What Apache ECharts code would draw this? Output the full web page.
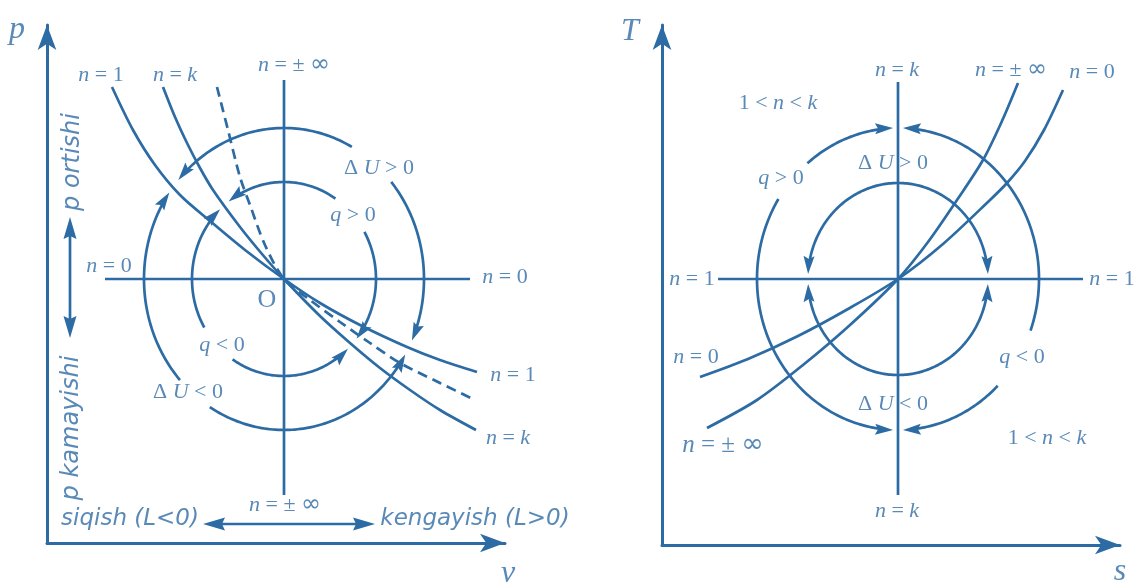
<!DOCTYPE html>
<html><head><meta charset="utf-8">
<script src="https://cdn.jsdelivr.net/npm/echarts@6/dist/echarts.min.js"></script>
<style>html,body{margin:0;padding:0;background:#fff}#c{width:1137px;height:585px}</style>
</head><body><div id="c"></div>
<script>
// ---- p–v diagram: coordinates measured from the common state point O ----
const pvIsotherm = [[-172,192],[-151,149],[-129,114],[-104,84],[-74,58],[-39,29],[0,0],[36,-24],[76,-46],[123,-68],[156,-81],[193,-93]];            // n = 1
const pvAdiabat  = [[-121,192],[-109,162],[-97,136],[-84,111],[-71,89],[-44,52],[-22,25],[0,0],[36,-37],[66,-64],[96,-89],[126,-111],[156,-131],[192,-151]]; // n = k
const pvDashed   = [[-67,192],[-56,149],[-44,102],[-34,74],[-19,34],[0,0],[26,-21],[56,-43],[86,-64],[116,-84],[156,-104],[191,-121]];
const pvIsobar   = [[-179,0],[186,0]];   // n = 0
const pvIsochore = [[0,199],[0,-216]];   // n = ±∞
// arcs: [cx, cy, rx, ry, fromDeg, toDeg] – arrowhead at the "to" end
const pvArcs = [
  [0,0,140,151,61,139],
  [0,0,140,151,222,145],
  [0,0,140,151,238,330],
  [0,0,140,151,40,-24],
  [0,0,92,97,56,127],
  [0,0,92,97,210,134],
  [0,0,92,97,236,314],
  [0,0,92,97,29,-38]
];
// double-headed arrows: [x1, y1, x2, y2]
const pvArrows = [[-214,62,-214,-59],[-81,-245,91,-245]];
const pvMathLabels = [
  [-183,204,'n = 1'],[-109,204,'n = k'],[10,214,'n = ± ∞'],
  [95,111,'Δ U > 0'],[69,64,'q > 0'],[-175,13,'n = 0'],[221,2,'n = 0'],
  [-62,-66,'q < 0'],[229,-96,'n = 1'],[-96,-113,'Δ U < 0'],[224,-159,'n = k'],
  [1,-226,'n = ± ∞']
];
const pvPoint = [[-17,-21,'O']];
const pvAxisNames = [[-267,249,'p'],[224,-295,'v']];
const pvWords = [[-154,-240,'siqish (L<0)'],[191,-240,'kengayish (L>0)']];
const pvWordsUp = [[-211,117,'p ortishi'],[-212,-149,'p kamayishi']];

// ---- T–s diagram: coordinates measured from the common state point ----
const tsIsochore = [[-191,-149],[-141,-121],[-95,-86],[-48,-46],[0,0],[30,37],[59,79],[85,119],[104,158],[120,196]]; // n = ±∞
const tsIsobar   = [[-198,-98],[-150,-80],[-100,-57],[-50,-30],[0,0],[45,35],[92,79],[109,96],[127,118],[146,149],[165,189]];   // n = 0
const tsIsotherm = [[-180,0],[185,0]];   // n = 1
const tsAdiabat  = [[0,197],[0,-216]];   // n = k
const tsArcs = [
  [0,0,141,151,130,92],
  [0,0,141,151,-20,88],
  [0,0,141,151,148,268],
  [0,0,141,151,-45,-88],
  [0,0,90,96,90,177],
  [0,0,90,96,90,3],
  [0,0,90,96,270,183],
  [0,0,90,96,270,357]
];
const tsMathLabels = [
  [-120,176,'1 < n < k'],[-1,209,'n = k'],[113,209,'n = ± ∞'],[194,207,'n = 0'],
  [-117,101,'q > 0'],[-5,116,'Δ U > 0'],[-206,0,'n = 1'],[214,0,'n = 1'],
  [-202,-78,'n = 0'],[124,-78,'q < 0'],[-5,-125,'Δ U < 0'],[149,-159,'1 < n < k'],
  [-1,-232,'n = k']
];
const tsBigLabels = [[-175,-166,'n = ± ∞']];
const tsAxisNames = [[-268,247,'T'],[222,-293,'s']];

const LINE = '#2c6ba3';
const TEXT = '#2f6ca5';
const SERIF = "'Liberation Serif','DejaVu Serif',serif";
const SANS = "'DejaVu Sans','Liberation Sans',sans-serif";

function arrowHead(tip, dir, L, W) {
  const bx = tip[0] - dir[0] * L, by = tip[1] - dir[1] * L;
  const nx = -dir[1], ny = dir[0];
  return [[tip[0], tip[1]], [bx + nx * W, by + ny * W], [bx + dir[0] * 3, by + dir[1] * 3], [bx - nx * W, by - ny * W]];
}

function arcRender(params, api) {
  const c = api.coord([api.value(0), api.value(1)]);
  const rx = api.size([api.value(2), 0])[0];
  const ry = api.size([0, api.value(3)])[1];
  const a0 = api.value(4) * Math.PI / 180, a1 = api.value(5) * Math.PI / 180;
  const s = Math.sign(a1 - a0);
  const L = 18, W = 5.5;
  const aStop = a1 - s * (L * 0.6) / ((rx + ry) / 2);
  const n = Math.max(8, Math.ceil(Math.abs(aStop - a0) / 0.02));
  const pts = [];
  for (let i = 0; i <= n; i++) {
    const a = a0 + (aStop - a0) * i / n;
    pts.push([c[0] + rx * Math.cos(a), c[1] - ry * Math.sin(a)]);
  }
  const tip = [c[0] + rx * Math.cos(a1), c[1] - ry * Math.sin(a1)];
  let dx = -rx * Math.sin(a1) * s, dy = -ry * Math.cos(a1) * s;
  const len = Math.hypot(dx, dy); dx /= len; dy /= len;
  return { type: 'group', children: [
    { type: 'polyline', shape: { points: pts }, style: { stroke: LINE, lineWidth: 2.7, fill: null } },
    { type: 'polygon', shape: { points: arrowHead(tip, [dx, dy], L, W) }, style: { fill: LINE } }
  ]};
}

function segRender(params, api) {
  const p1 = api.coord([api.value(0), api.value(1)]);
  const p2 = api.coord([api.value(2), api.value(3)]);
  let dx = p2[0] - p1[0], dy = p2[1] - p1[1];
  const len = Math.hypot(dx, dy); dx /= len; dy /= len;
  const L = 22, W = 6.5;
  return { type: 'group', children: [
    { type: 'line', shape: { x1: p1[0] + dx * 10, y1: p1[1] + dy * 10, x2: p2[0] - dx * 10, y2: p2[1] - dy * 10 }, style: { stroke: LINE, lineWidth: 2.7 } },
    { type: 'polygon', shape: { points: arrowHead(p2, [dx, dy], L, W) }, style: { fill: LINE } },
    { type: 'polygon', shape: { points: arrowHead(p1, [-dx, -dy], L, W) }, style: { fill: LINE } }
  ]};
}

function curve(data, gi, dashed) {
  return { type: 'line', xAxisIndex: gi, yAxisIndex: gi, data: data, showSymbol: false, symbol: 'none',
    smooth: data.length > 2 ? 0.3 : false, silent: true, z: 3, animation: false,
    lineStyle: { color: LINE, width: 2.7, type: dashed ? [10, 6] : 'solid' } };
}

function mathText(s) {
  return s.replace(/∞/g, '{f|∞}').replace(/([nkqU])/g, '{i|$1}');
}

function textSeries(list, gi, label) {
  return { type: 'scatter', xAxisIndex: gi, yAxisIndex: gi, clip: false, silent: true, z: 6,
    symbolSize: 0, animation: false,
    data: list.map(function (d) { return { value: [d[0], d[1]], name: d[2] }; }),
    label: Object.assign({ show: true, position: 'inside', color: TEXT,
      formatter: function (p) { return p.name; } }, label) };
}

function mathLabels(list, gi, size) {
  return textSeries(list, gi, {
    fontFamily: SERIF, fontSize: size,
    formatter: function (p) { return mathText(p.name); },
    rich: {
      i: { fontFamily: SERIF, fontStyle: 'italic', fontSize: size, color: TEXT },
      f: { fontFamily: SANS, fontSize: size + 2, color: TEXT }
    }
  });
}

function axisPair(gi, xmin, xmax, ymin, ymax) {
  const line = { show: true, onZero: false, symbol: ['none', 'arrow'], symbolSize: [14, 25],
    lineStyle: { color: LINE, width: 3 } };
  return {
    x: { type: 'value', gridIndex: gi, min: xmin, max: xmax, axisLine: line,
      axisTick: { show: false }, axisLabel: { show: false }, splitLine: { show: false } },
    y: { type: 'value', gridIndex: gi, min: ymin, max: ymax, axisLine: line,
      axisTick: { show: false }, axisLabel: { show: false }, splitLine: { show: false } }
  };
}

const A0 = axisPair(0, -237, 221, -264, 254);
const A1 = axisPair(1, -236, 222, -266, 254);

const chart = echarts.init(document.getElementById('c'));
chart.setOption({
  backgroundColor: '#ffffff',
  animation: false,
  grid: [
    { left: 47, top: 25, width: 458, height: 518 },
    { left: 662, top: 25, width: 458, height: 520 }
  ],
  xAxis: [A0.x, A1.x],
  yAxis: [A0.y, A1.y],
  series: [
    curve(pvIsobar, 0), curve(pvIsochore, 0),
    curve(pvIsotherm, 0), curve(pvAdiabat, 0), curve(pvDashed, 0, true),
    { type: 'custom', xAxisIndex: 0, yAxisIndex: 0, data: pvArcs, renderItem: arcRender, clip: false, silent: true, z: 4, encode: { x: 0, y: 1 } },
    { type: 'custom', xAxisIndex: 0, yAxisIndex: 0, data: pvArrows, renderItem: segRender, clip: false, silent: true, z: 4, encode: { x: 0, y: 1 } },
    mathLabels(pvMathLabels, 0, 22),
    textSeries(pvPoint, 0, { fontFamily: SERIF, fontSize: 26 }),
    textSeries(pvAxisNames, 0, { fontFamily: SERIF, fontStyle: 'italic', fontSize: 32 }),
    textSeries(pvWords, 0, { fontFamily: SANS, fontStyle: 'italic', fontSize: 23 }),
    textSeries(pvWordsUp, 0, { fontFamily: SANS, fontStyle: 'italic', fontSize: 24, rotate: 90 }),

    curve(tsIsotherm, 1), curve(tsAdiabat, 1),
    curve(tsIsochore, 1), curve(tsIsobar, 1),
    { type: 'custom', xAxisIndex: 1, yAxisIndex: 1, data: tsArcs, renderItem: arcRender, clip: false, silent: true, z: 4, encode: { x: 0, y: 1 } },
    mathLabels(tsMathLabels, 1, 22),
    mathLabels(tsBigLabels, 1, 25),
    textSeries(tsAxisNames, 1, { fontFamily: SERIF, fontStyle: 'italic', fontSize: 32 })
  ]
});
</script>
</body></html>
